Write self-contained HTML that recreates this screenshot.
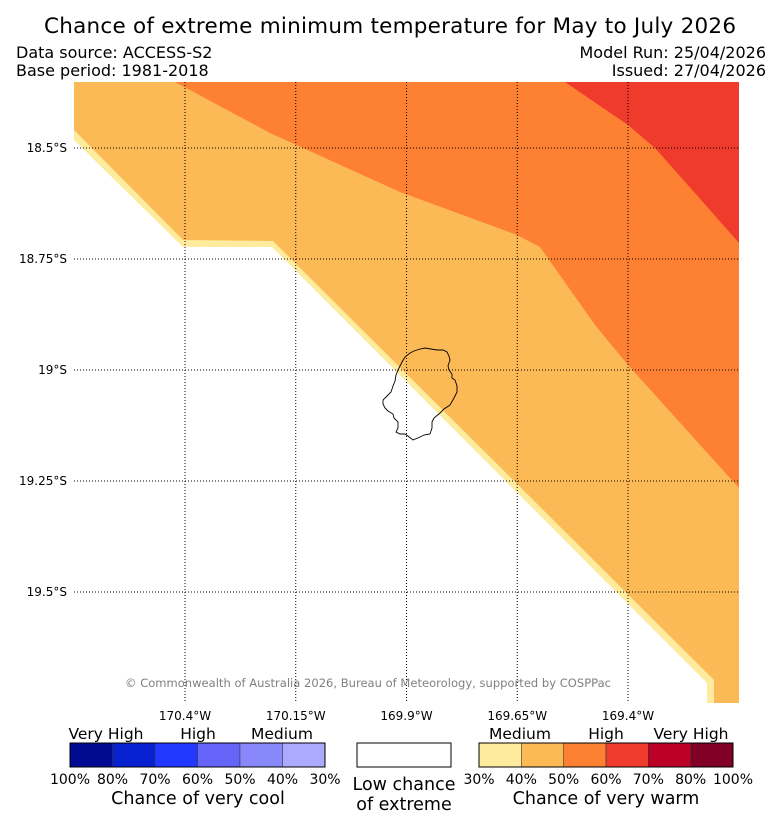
<!DOCTYPE html>
<html><head><meta charset="utf-8"><style>
body{margin:0;background:#fff;width:781px;height:827px;overflow:hidden}
svg{font-family:"DejaVu Sans","Liberation Sans",sans-serif}
</style></head><body>
<svg width="781" height="827" viewBox="0 0 781 827">
<text x="390" y="33" font-size="21.5" text-anchor="middle" textLength="692">Chance of extreme minimum temperature for May to July 2026</text>
<text x="16" y="58" font-size="16">Data source: ACCESS-S2</text>
<text x="16" y="76" font-size="16">Base period: 1981-2018</text>
<text x="766" y="58" font-size="16" text-anchor="end">Model Run: 25/04/2026</text>
<text x="766" y="76" font-size="16" text-anchor="end">Issued: 27/04/2026</text>
<g id="map">
<polygon fill="#feeb9d" points="74,82 739,82 739,703 707,703 707,683 272,247 183,247 74,140"/>
<polygon fill="#fcba56" points="74,82 739,82 739,703 714,703 714,680 273,241 183,240 74,130"/>
<polygon fill="#fd8033" points="175,82 739,82 739,488 628,365 595,325 540,247 517,235 400,192 270,133"/>
<polygon fill="#ef3b2b" points="565,82 739,82 739,243 710,210 655,148 628,125"/>
<path fill="none" stroke="#000" stroke-width="0.9" d="M398,370 L402,362 L405,357 L410,353 L414,351 L420,349 L425,348 L431,349 L437,350 L443,350 L447,352 L449,356 L450,360 L448,366 L449,370 L452,374 L452,378 L455,380 L457,386 L457,392 L454,398 L450,405 L444,409 L440,413 L434,418 L432,422 L432,428 L430,434 L424,435 L420,437 L413,440 L408,436 L405,434 L400,434 L396,432 L398,428 L398,422 L394,418 L393,414 L388,411 L385,408 L383,404 L383,400 L387,396 L391,392 L393,386 L395,381 L396,375 Z"/>
<g id="grid"></g>
<text x="368" y="687" font-size="11.5" fill="#808080" text-anchor="middle" textLength="486">© Commonwealth of Australia 2026, Bureau of Meteorology, supported by COSPPac</text>
</g>
<g id="legend"></g>
<text x="198" y="804" font-size="17.5" text-anchor="middle">Chance of very cool</text>
<rect x="357" y="743" width="94" height="24" fill="#fff" stroke="#000"/>
<text x="404" y="790" font-size="17.5" text-anchor="middle">Low chance</text>
<text x="404" y="810" font-size="17.5" text-anchor="middle">of extreme</text>
<text x="606" y="804" font-size="17.5" text-anchor="middle">Chance of very warm</text>
</svg>
<script>
const lonTicks=["170.4°W","170.15°W","169.9°W","169.65°W","169.4°W"];
const lonVals=[-170.4,-170.15,-169.9,-169.65,-169.4];
const latTicks=["18.5°S","18.75°S","19°S","19.25°S","19.5°S"];
const latVals=[-18.5,-18.75,-19,-19.25,-19.5];
const coolLabels=["100%","80%","70%","60%","50%","40%","30%"];
const warmLabels=["30%","40%","50%","60%","70%","80%","100%"];
const coolColors=["#000b92","#0821d0","#2038ff","#6464f9","#8888fa","#aaaaff"];
const warmColors=["#feeb9d","#fcba56","#fd8033","#ef3b2b","#bd0026","#800026"];
const NS="http://www.w3.org/2000/svg";
const xS=v=>185+(v+170.4)/0.25*110.75;
const yS=v=>148+(-18.5-v)/0.25*111;
function mk(t,a,p){const e=document.createElementNS(NS,t);for(const k in a)e.setAttribute(k,a[k]);p.appendChild(e);return e;}
const g=document.getElementById('grid'),svg=document.querySelector('svg');
lonVals.forEach((v,i)=>{const x=xS(v);
 const l=mk('line',{x1:x,y1:82,x2:x,y2:703,stroke:'#000','stroke-width':1,'stroke-dasharray':'1,2'},g);
 
 
 const t=mk('text',{x:x,y:720,'font-size':12,'text-anchor':'middle'},svg);t.textContent=lonTicks[i];
 
 });
latVals.forEach((v,i)=>{const y=yS(v);
 const l=mk('line',{x1:74,y1:y,x2:739,y2:y,stroke:'#000','stroke-width':1,'stroke-dasharray':'1,2'},g);
 
 
 const t=mk('text',{x:67,y:y+4,'font-size':12,'text-anchor':'end'},svg);t.textContent=latTicks[i];
 
 });
const lg=document.getElementById('legend');
function bar(x0,w,colors,labels,name){const cw=w/colors.length;
 colors.forEach((c,i)=>{const r=mk('rect',{x:x0+i*cw,y:743,width:cw,height:24,fill:c,stroke:'#333','stroke-width':0.5},lg);
  
  });
 mk('rect',{x:x0,y:743,width:w,height:24,fill:'none',stroke:'#000'},lg);
 labels.forEach((s,i)=>{const t=mk('text',{x:x0+i*cw,y:784,'font-size':14,'text-anchor':'middle'},lg);t.textContent=s;
  
  });}
bar(70,255,coolColors,coolLabels,'cool');
bar(479,254,warmColors,warmLabels,'warm');
[["Very High",106],["High",198],["Medium",282],["Medium",520],["High",606],["Very High",691]].forEach(([s,x])=>{
 const t=mk('text',{x:x,y:739,'font-size':15.5,'text-anchor':'middle'},lg);t.textContent=s;
 
 });
</script>
</body></html>
